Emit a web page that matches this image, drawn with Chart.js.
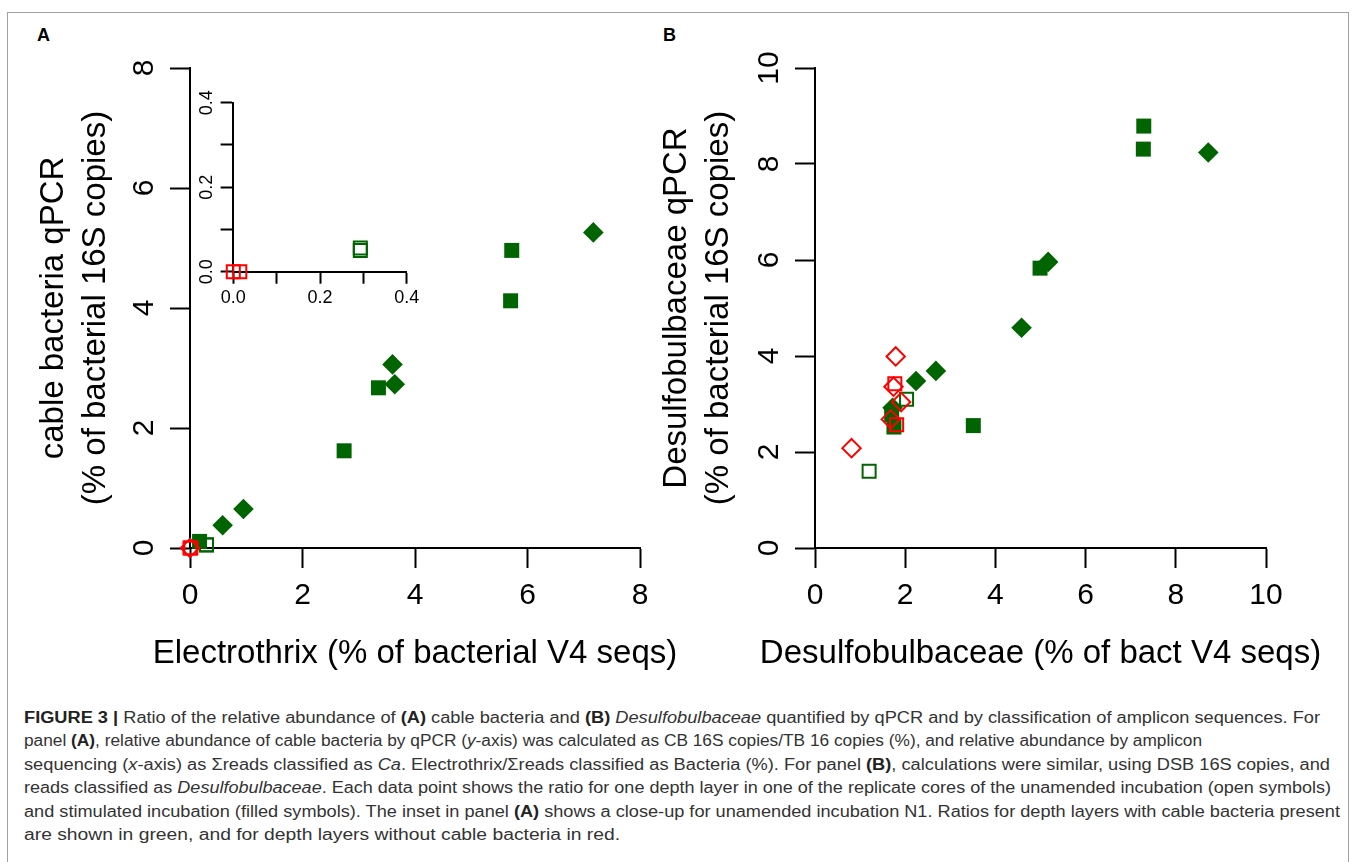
<!DOCTYPE html>
<html>
<head>
<meta charset="utf-8">
<title>Figure 3</title>
<script src="https://cdn.jsdelivr.net/npm/chart.js@4.4.1/dist/chart.umd.min.js"></script>
<style>
  html, body { margin: 0; padding: 0; background: #fff; }
  body { width: 1355px; height: 862px; position: relative; overflow: hidden;
         font-family: "Liberation Sans", Arial, sans-serif; }
  .frame { position: absolute; left: 7px; top: 12px; width: 1340px; height: 900px;
           border: 1px solid #a0a0a0; }
  canvas { position: absolute; }
  #chartA { left: 0; top: 0; }
  #inset { left: 150px; top: 60px; }
  #chartB { left: 640px; top: 0; }
  .tag { position: absolute; font-weight: bold; font-size: 18px; line-height: 18px; color: #000; }
  #caption { position: absolute; left: 24px; top: 706px; color: #333;
             font-family: "Liberation Sans Narrow", "Liberation Sans", Arial, sans-serif;
             font-size: 16px; line-height: 23.4px; white-space: nowrap; }
  #caption span { display: inline-block; transform-origin: 0 0; }
  #caption b { color: #222; }
</style>
</head>
<body>
<div class="frame"></div>
<div class="tag" style="left:37px; top:26px;">A</div>
<div class="tag" style="left:663px; top:26px;">B</div>

<canvas id="chartA" width="700" height="690"></canvas>
<canvas id="inset" width="280" height="260"></canvas>
<canvas id="chartB" width="715" height="690"></canvas>

<div id="caption">
  <div><span data-w="1296"><b>FIGURE 3 |</b> Ratio of the relative abundance of <b>(A)</b> cable bacteria and <b>(B)</b> <i>Desulfobulbaceae</i> quantified by qPCR and by classification of amplicon sequences. For</span></div>
  <div><span data-w="1178">panel <b>(A)</b>, relative abundance of cable bacteria by qPCR (<i>y</i>-axis) was calculated as CB 16S copies/TB 16 copies (%), and relative abundance by amplicon</span></div>
  <div><span data-w="1306">sequencing (<i>x</i>-axis) as &Sigma;reads classified as <i>Ca</i>. Electrothrix/&Sigma;reads classified as Bacteria (%). For panel <b>(B)</b>, calculations were similar, using DSB 16S copies, and</span></div>
  <div><span data-w="1307">reads classified as <i>Desulfobulbaceae</i>. Each data point shows the ratio for one depth layer in one of the replicate cores of the unamended incubation (open symbols)</span></div>
  <div><span data-w="1316">and stimulated incubation (filled symbols). The inset in panel <b>(A)</b> shows a close-up for unamended incubation N1. Ratios for depth layers with cable bacteria present</span></div>
  <div><span data-w="596">are shown in green, and for depth layers without cable bacteria in red.</span></div>
</div>

<script>
// ---- panel A : Electrothrix reads vs cable bacteria qPCR ----
const aFilledSqX  = [0.17, 2.74, 3.35, 5.70, 5.72];
const aFilledSqY  = [0.11, 1.62, 2.67, 4.12, 4.96];
const aFilledDiaX = [0.58, 0.95, 3.60, 3.64, 7.17];
const aFilledDiaY = [0.38, 0.65, 3.06, 2.73, 5.26];
const aOpenRedDiaX = [0.00];
const aOpenRedDiaY = [0.00];
// unamended incubation N1 (also shown in the inset)
const n1GreenSqX = [0.293, 0.293];
const n1GreenSqY = [0.050, 0.056];
const n1RedSqX   = [0.000, 0.015];
const n1RedSqY   = [0.000, 0.000];

// ---- panel B : Desulfobulbaceae reads vs qPCR ----
const bFilledSqX  = [1.70, 1.75, 3.51, 4.99, 7.28, 7.29];
const bFilledSqY  = [2.78, 2.52, 2.55, 5.83, 8.31, 8.79];
const bFilledDiaX = [1.72, 2.24, 2.68, 4.58, 5.17, 8.72];
const bFilledDiaY = [2.92, 3.48, 3.69, 4.59, 5.96, 8.24];
const bOpenGreenSqX = [1.20, 2.03];
const bOpenGreenSqY = [1.60, 3.10];
const bOpenRedSqX  = [1.81, 1.77];
const bOpenRedSqY  = [2.57, 3.42];
const bOpenRedDiaX = [0.81, 1.68, 1.74, 1.79, 1.91];
const bOpenRedDiaY = [2.08, 2.68, 3.36, 3.99, 3.04];

// axis ticks / titles
const aTicks = [0, 2, 4, 6, 8];
const bTicks = [0, 2, 4, 6, 8, 10];
const insetTicks = [0, 0.1, 0.2, 0.3, 0.4];
const aXTitle = 'Electrothrix (% of bacterial V4 seqs)';
const aYTitle = ['cable bacteria qPCR', '(% of bacterial 16S copies)'];
const bXTitle = 'Desulfobulbaceae (% of bact V4 seqs)';
const bYTitle = ['Desulfobulbaceae qPCR', '(% of bacterial 16S copies)'];

const FONT = '"Liberation Sans", Arial, sans-serif';
const GREEN = '#006400';
const RED = '#ff0000';

function pts(xs, ys) {
  return xs.map((x, i) => ({ x: x, y: ys[i] }));
}

// one scatter dataset, R style symbols
function symbols(label, xs, ys, shape, color, filled) {
  var r;
  if (shape == 'rect') r = filled ? 10.6 : 9.2;
  else r = filled ? 10.3 : 9.2;
  return {
    label: label,
    data: pts(xs, ys),
    showLine: false,
    clip: false,
    pointStyle: shape,
    pointRadius: r,
    pointHoverRadius: r,
    pointBackgroundColor: filled ? color : 'rgba(0,0,0,0)',
    pointBorderColor: color,
    pointBorderWidth: filled ? 0 : 2,
    pointHoverBorderWidth: filled ? 0 : 2
  };
}

// y tick labels drawn rotated, like R's default axis
const yTickLabels = {
  id: 'yTickLabels',
  afterDraw(chart, args, o) {
    const s = chart.scales.y, ctx = chart.ctx;
    ctx.save();
    ctx.fillStyle = '#000';
    ctx.font = o.size + 'px ' + FONT;
    ctx.textAlign = 'center';
    ctx.textBaseline = 'middle';
    s.ticks.forEach(function (t) {
      const k = t.value / o.labelStep;
      if (Math.abs(k - Math.round(k)) > 1e-6) return;
      ctx.save();
      ctx.translate(s.right - o.tick - o.gap, s.getPixelForValue(t.value));
      ctx.rotate(-Math.PI / 2);
      ctx.fillText(t.value.toFixed(o.decimals), 0, 0);
      ctx.restore();
    });
    ctx.restore();
  }
};

// x axis title, drawn without the scale's width limit
const xTitle = {
  id: 'xTitle',
  afterDraw(chart, args, o) {
    if (!o.text) return;
    const a = chart.chartArea, ctx = chart.ctx;
    ctx.save();
    ctx.fillStyle = '#000';
    ctx.font = '33px ' + FONT;
    ctx.textAlign = 'center';
    ctx.textBaseline = 'middle';
    ctx.fillText(o.text, (a.left + a.right) / 2, o.y);
    ctx.restore();
  }
};

function axis(min, max, step, tickLen, fontSize, extra) {
  const a = {
    type: 'linear', min: min, max: max,
    border: { display: true, color: '#000', width: 2 },
    grid: { drawOnChartArea: false, drawTicks: true, tickLength: tickLen, tickColor: '#000', tickWidth: 2 },
    ticks: { stepSize: step, color: '#000', autoSkip: false, maxRotation: 0, minRotation: 0,
             font: { size: fontSize, family: FONT } },
    title: { display: false }
  };
  return Object.assign(a, extra);
}

function baseOptions(pad, yLabels, xT) {
  return {
    responsive: false,
    animation: false,
    events: [],
    layout: { padding: pad },
    plugins: { legend: { display: false }, tooltip: { enabled: false },
               yTickLabels: yLabels, xTitle: xT }
  };
}

function yTitle(text, padTop) {
  return { display: true, text: text, color: '#000',
           font: { size: 33, family: FONT, lineHeight: 1.27 },
           padding: { top: padTop, bottom: 0 } };
}

// ---------- panel A ----------
const optA = baseOptions({ left: 0, right: 60, top: 68, bottom: 0 },
                         { size: 30, gap: 25, tick: 20, decimals: 0, labelStep: 2 },
                         { text: aXTitle, y: 654 });
optA.scales = {
  x: axis(0, 8, 2, 20, 30, { afterFit: function (s) { s.height = 142; } }),
  y: axis(0, 8, 2, 20, 30, { afterFit: function (s) { s.width = 190; } })
};
optA.scales.x.ticks.padding = 10;
optA.scales.y.ticks.display = false;
optA.scales.y.title = yTitle(aYTitle, 33);

new Chart(document.getElementById('chartA'), {
  type: 'scatter',
  data: {
    datasets: [
      symbols('unamended, no cable bacteria', aOpenRedDiaX, aOpenRedDiaY, 'rectRot', RED, false),
      symbols('N1, no cable bacteria', n1RedSqX, n1RedSqY, 'rect', RED, false),
      symbols('N1, cable bacteria', n1GreenSqX, n1GreenSqY, 'rect', GREEN, false),
      symbols('stimulated core 1', aFilledSqX, aFilledSqY, 'rect', GREEN, true),
      symbols('stimulated core 2', aFilledDiaX, aFilledDiaY, 'rectRot', GREEN, true)
    ]
  },
  options: optA,
  plugins: [yTickLabels, xTitle]
});

// ---------- inset (N1 close-up) ----------
function insetLabel(v) {
  const k = v / 0.2;
  return Math.abs(k - Math.round(k)) < 1e-6 ? v.toFixed(1) : '';
}
const optI = baseOptions({ left: 0, right: 23.3, top: 42.7, bottom: 0 },
                         { size: 18, gap: 14, tick: 12.7, decimals: 1, labelStep: 0.2 },
                         { text: '', y: 0 });
optI.scales = {
  x: axis(0, 0.4, 0.1, 12, 18, { afterFit: function (s) { s.height = 48.3; } }),
  y: axis(0, 0.4, 0.1, 12.7, 18, { afterFit: function (s) { s.width = 83.3; } })
};
optI.scales.x.ticks.callback = insetLabel;
optI.scales.x.ticks.padding = 4;
optI.scales.y.ticks.display = false;

new Chart(document.getElementById('inset'), {
  type: 'scatter',
  data: {
    datasets: [
      symbols('N1, no cable bacteria', n1RedSqX, n1RedSqY, 'rect', RED, false),
      symbols('N1, cable bacteria', n1GreenSqX, n1GreenSqY, 'rect', GREEN, false)
    ]
  },
  options: optI,
  plugins: [yTickLabels, xTitle]
});

// ---------- panel B ----------
const optB = baseOptions({ left: 0, right: 89, top: 68, bottom: 0 },
                         { size: 30, gap: 25, tick: 20, decimals: 0, labelStep: 2 },
                         { text: bXTitle, y: 654 });
optB.scales = {
  x: axis(0, 10, 2, 20, 30, { afterFit: function (s) { s.height = 142; } }),
  y: axis(0, 10, 2, 20, 30, { afterFit: function (s) { s.width = 175; } })
};
optB.scales.x.ticks.padding = 10;
optB.scales.y.ticks.display = false;
optB.scales.y.title = yTitle(bYTitle, 16);

new Chart(document.getElementById('chartB'), {
  type: 'scatter',
  data: {
    datasets: [
      symbols('unamended, no cable bacteria', bOpenRedDiaX, bOpenRedDiaY, 'rectRot', RED, false),
      symbols('unamended, no cable bacteria (sq)', bOpenRedSqX, bOpenRedSqY, 'rect', RED, false),
      symbols('unamended, cable bacteria', bOpenGreenSqX, bOpenGreenSqY, 'rect', GREEN, false),
      symbols('stimulated core 1', bFilledSqX, bFilledSqY, 'rect', GREEN, true),
      symbols('stimulated core 2', bFilledDiaX, bFilledDiaY, 'rectRot', GREEN, true)
    ]
  },
  options: optB,
  plugins: [yTickLabels, xTitle]
});

// squeeze each caption line to its printed width
document.querySelectorAll('#caption span[data-w]').forEach(function (sp) {
  const w = sp.getBoundingClientRect().width;
  if (w > 0) sp.style.transform = 'scaleX(' + (Number(sp.dataset.w) / w) + ')';
});
</script>
</body>
</html>
